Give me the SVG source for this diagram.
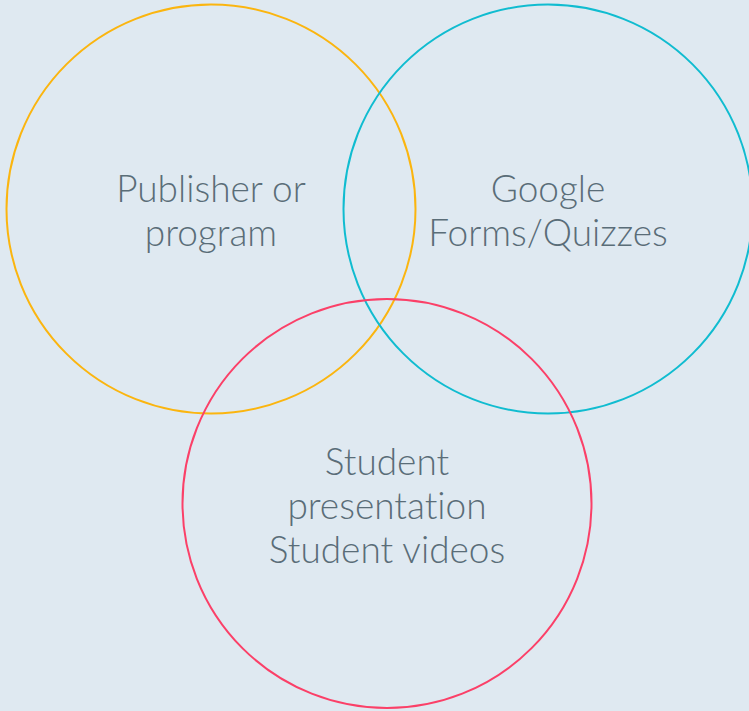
<svg xmlns="http://www.w3.org/2000/svg" width="749" height="711" viewBox="0 0 749 711">
<style>
.c{fill:none;stroke-width:2}
.t{font-family:Lato,"Open Sans","Liberation Sans",sans-serif;font-weight:300;font-size:37px;fill:#5a6d78;text-anchor:middle;font-variant-ligatures:none;font-feature-settings:"liga" 0,"dlig" 0}
</style>
<rect width="749" height="711" fill="#dfe9f1"/>
<g id="publisher">
<circle class="c" cx="211" cy="209" r="204.5" stroke="#fbb50f"/>
<text class="t" x="211" y="202">Publisher or</text>
<text class="t" x="211" y="246">program</text>
</g>
<g id="google">
<circle class="c" cx="548" cy="209" r="204.5" stroke="#10bcd0"/>
<text class="t" x="548" y="202">Google</text>
<text class="t" x="548" y="246">Forms/Quizzes</text>
</g>
<g id="student">
<circle class="c" cx="387" cy="503.5" r="204.5" stroke="#fb4068"/>
<text class="t" x="387" y="475">Student</text>
<text class="t" x="387" y="519">presentation</text>
<text class="t" x="387" y="563">Student videos</text>
</g>
<g id="connectors"/>
</svg>
